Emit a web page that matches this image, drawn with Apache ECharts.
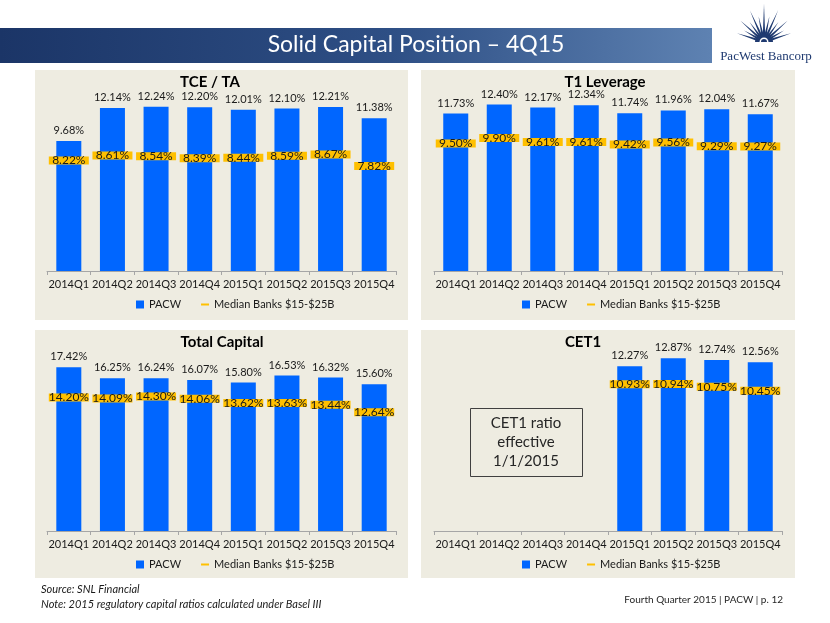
<!DOCTYPE html>
<html>
<head>
<meta charset="utf-8">
<script src="https://cdn.jsdelivr.net/npm/echarts@6/dist/echarts.min.js"></script>
<style>
html,body{margin:0;padding:0;background:#fff;}
#c{width:830px;height:623px;}
</style>
</head>
<body>
<div id="c"></div>
<script>
// ---- data ----
const categories = ['2014Q1','2014Q2','2014Q3','2014Q4','2015Q1','2015Q2','2015Q3','2015Q4'];
const tcePacw     = [9.68, 12.14, 12.24, 12.20, 12.01, 12.10, 12.21, 11.38];
const tceMedian   = [8.22, 8.61, 8.54, 8.39, 8.44, 8.59, 8.67, 7.82];
const t1Pacw      = [11.73, 12.40, 12.17, 12.34, 11.74, 11.96, 12.04, 11.67];
const t1Median    = [9.50, 9.90, 9.61, 9.61, 9.42, 9.56, 9.29, 9.27];
const totPacw     = [17.42, 16.25, 16.24, 16.07, 15.80, 16.53, 16.32, 15.60];
const totMedian   = [14.20, 14.09, 14.30, 14.06, 13.62, 13.63, 13.44, 12.64];
const cetPacw     = [null, null, null, null, 12.27, 12.87, 12.74, 12.56];
const cetMedian   = [null, null, null, null, 10.93, 10.94, 10.75, 10.45];
const panelTitles = ['TCE / TA', 'T1 Leverage', 'Total Capital', 'CET1'];
const seriesNames = ['PACW', 'Median Banks $15-$25B'];

const FONT = 'Lato, "Open Sans", sans-serif';
const chart = echarts.init(document.getElementById('c'));

const panels = [
  {x:35,  y:70,  w:373, h:250, grid:{left:47,  top:83,  width:349, height:188}, max:14, pacw:tcePacw, med:tceMedian, tx:210, legendLeft:136},
  {x:421, y:70,  w:374, h:250, grid:{left:434, top:83,  width:348, height:188}, max:14, pacw:t1Pacw,  med:t1Median,  tx:605, legendLeft:522},
  {x:35,  y:330, w:373, h:248, grid:{left:47,  top:343, width:349, height:188}, max:20, pacw:totPacw, med:totMedian, tx:222, legendLeft:136},
  {x:421, y:330, w:374, h:248, grid:{left:434, top:343, width:348, height:188}, max:14, pacw:cetPacw, med:cetMedian, tx:583, legendLeft:522}
];

const fmt = p => (p.value == null || p.value === '-') ? '' : Number(p.value).toFixed(2) + '%';

const grids = [], xAxes = [], yAxes = [], series = [], titles = [], legends = [], graphics = [];

panels.forEach((p, i) => {
  graphics.push({type:'rect', z:-10, shape:{x:p.x, y:p.y, width:p.w, height:p.h}, style:{fill:'#EEECE1'}});
  grids.push(Object.assign({}, p.grid));
  xAxes.push({
    type:'category', gridIndex:i, data:categories,
    axisLine:{lineStyle:{color:'#A6A6A6', width:1}},
    axisTick:{show:true, length:4, lineStyle:{color:'#A6A6A6'}},
    axisLabel:{color:'#1a1a1a', fontSize:11, fontFamily:FONT, margin:8, interval:0}
  });
  yAxes.push({type:'value', gridIndex:i, min:0, max:p.max, show:false, splitLine:{show:false}});
  series.push({
    name:seriesNames[0], type:'bar', xAxisIndex:i, yAxisIndex:i, data:p.pacw,
    barWidth:25, itemStyle:{color:'#0066FF'},
    label:{show:true, position:'top', distance:5, color:'#1a1a1a', fontSize:11, fontFamily:FONT, formatter:fmt}
  });
  series.push({
    name:seriesNames[1], type:'scatter', xAxisIndex:i, yAxisIndex:i, data:p.med,
    symbol:'rect', symbolSize:[40, 8], itemStyle:{color:'#FFC000', opacity:1},
    label:{show:true, position:'inside', color:'#1a1a1a', fontSize:12, fontFamily:FONT, formatter:fmt},
    z:5
  });
  titles.push({
    text:panelTitles[i], left:p.tx, top:p.y + 5, textAlign:'center', padding:0,
    textStyle:{fontFamily:FONT, fontSize:15, fontWeight:'bold', color:'#000'}
  });
  legends.push({
    left:p.legendLeft, top:p.y + 229, orient:'horizontal', selectedMode:false,
    itemWidth:8, itemHeight:8, itemGap:20, padding:0,
    textStyle:{fontFamily:FONT, fontSize:11, color:'#1a1a1a'},
    data:[
      {name:seriesNames[0], icon:'rect'},
      {name:seriesNames[1], icon:'path://M0,0 L10,0 L10,2.5 L0,2.5 Z'}
    ]
  });
});

// title banner
graphics.push({
  type:'rect', shape:{x:0, y:28, width:712, height:35},
  style:{fill:new echarts.graphic.LinearGradient(0,0,1,0,[{offset:0,color:'#1B3567'},{offset:0.55,color:'#2E4F85'},{offset:1,color:'#5E82B2'}])}
});
graphics.push({
  type:'text', x:416, y:45,
  style:{text:'Solid Capital Position \u2013 4Q15', fill:'#fff', font:'23px ' + FONT, textAlign:'center', textVerticalAlign:'middle'}
});

// logo (sunburst + name)
(function(){
  const cx = 764, cy = 42;
  const n = 13;
  for (let k = 0; k < n; k++) {
    const a = Math.PI * (0.1 + 0.8 * k / (n - 1));
    const len = (k % 2 === 0) ? 38 - Math.abs(k - 6) * 1.6 : 27 - Math.abs(k - 6) * 0.8;
    const r0 = 7, hw = 0.17;
    const tip = [cx - Math.cos(a) * len, cy - Math.sin(a) * len];
    const b1 = [cx - Math.cos(a - hw) * r0, cy - Math.sin(a - hw) * r0];
    const b2 = [cx - Math.cos(a + hw) * r0, cy - Math.sin(a + hw) * r0];
    graphics.push({type:'polygon', shape:{points:[b1, tip, b2]}, style:{fill:'#1F3A70'}});
  }
  graphics.push({type:'sector', shape:{cx:cx, cy:cy, r:9, r0:0, startAngle:Math.PI, endAngle:2*Math.PI}, style:{fill:'#1F3A70'}});
  graphics.push({type:'sector', shape:{cx:cx, cy:cy, r:4.5, r0:3, startAngle:Math.PI, endAngle:2*Math.PI}, style:{fill:'#fff'}});
  graphics.push({type:'text', x:766, y:57, style:{text:'PacWest Bancorp', fill:'#1F3A70', font:'13px "Liberation Serif", "DejaVu Serif", serif', textAlign:'center', textVerticalAlign:'middle'}});
})();

// CET1 note box
graphics.push({type:'rect', shape:{x:470.5, y:408.5, width:112, height:68}, style:{fill:'none', stroke:'#404040', lineWidth:1}});
graphics.push({type:'text', x:526, y:423, style:{text:'CET1 ratio', fill:'#262626', font:'15px ' + FONT, textAlign:'center', textVerticalAlign:'middle'}});
graphics.push({type:'text', x:526, y:442, style:{text:'effective', fill:'#262626', font:'15px ' + FONT, textAlign:'center', textVerticalAlign:'middle'}});
graphics.push({type:'text', x:526, y:461, style:{text:'1/1/2015', fill:'#262626', font:'15px ' + FONT, textAlign:'center', textVerticalAlign:'middle'}});

// footnotes
graphics.push({type:'text', x:41, y:589, style:{text:'Source: SNL Financial', fill:'#1a1a1a', font:'italic 11px ' + FONT, textVerticalAlign:'middle'}});
graphics.push({type:'text', x:41, y:604, style:{text:'Note: 2015 regulatory capital ratios calculated under Basel III', fill:'#1a1a1a', font:'italic 11px ' + FONT, textVerticalAlign:'middle'}});
graphics.push({type:'text', x:783, y:600, style:{text:'Fourth Quarter 2015 | PACW | p. 12', fill:'#262626', font:'10px ' + FONT, textAlign:'right', textVerticalAlign:'middle'}});

chart.setOption({
  animation:false,
  backgroundColor:'#ffffff',
  textStyle:{fontFamily:FONT},
  title:titles,
  legend:legends,
  grid:grids,
  xAxis:xAxes,
  yAxis:yAxes,
  series:series,
  graphic:graphics
});
</script>
</body>
</html>
